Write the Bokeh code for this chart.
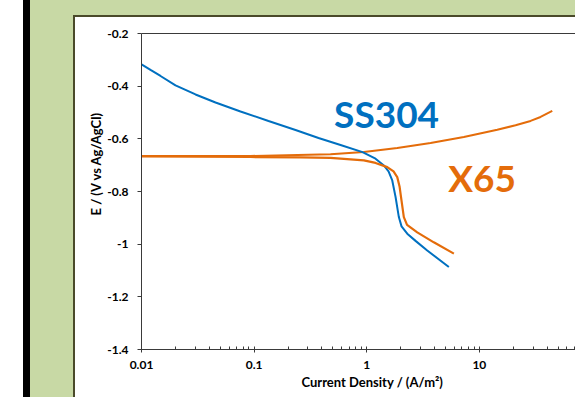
from bokeh.plotting import figure
from bokeh.models import FixedTicker, LinearAxis, Label, Range1d, Title
from bokeh.embed import file_html
from bokeh.resources import INLINE

# ---- data ----
ss304_current = [0.010, 0.01202, 0.01475, 0.02004, 0.03017, 0.04543, 0.07569, 0.1342, 0.2332,
                 0.3731, 0.5853, 0.9178, 1.197, 1.419, 1.562, 1.685, 1.803, 1.928, 2.037,
                 2.289, 2.713, 3.445, 5.36]
ss304_potential = [-0.3176, -0.3385, -0.3613, -0.3973, -0.4315, -0.4619, -0.4960, -0.5321, -0.5662,
                   -0.5966, -0.6232, -0.6505, -0.6755, -0.701, -0.7237, -0.758, -0.821, -0.897, -0.9325,
                   -0.960, -0.9875, -1.024, -1.087]

x65_anodic_current = [0.010, 0.093, 0.477, 0.943, 1.866, 3.687, 7.28, 14.42, 20.97, 28.5, 34.96, 44.4]
x65_anodic_potential = [-0.665, -0.665, -0.659, -0.650, -0.6345, -0.616, -0.5928, -0.5655, -0.5484,
                        -0.532, -0.517, -0.494]

x65_cathodic_current = [0.010, 0.093, 0.2582, 0.4774, 0.943, 1.197, 1.521, 1.730, 1.866, 1.956, 2.016,
                        2.135, 2.280, 2.81, 3.94, 5.94]
x65_cathodic_potential = [-0.667, -0.669, -0.6706, -0.6725, -0.682, -0.6915, -0.7074, -0.7237, -0.7454,
                          -0.7806, -0.8212, -0.8972, -0.9268, -0.9552, -0.993, -1.036]

x_ticks = [0.01, 0.1, 1, 10]
x_tick_labels = ["0.01", "0.1", "1", "10"]
x_minor = [m * d for d in [0.01, 0.1, 1, 10] for m in range(2, 10)]
y_ticks = [-1.4, -1.2, -1.0, -0.8, -0.6, -0.4, -0.2]
y_tick_labels = ["-1.4", "-1.2", "-1", "-0.8", "-0.6", "-0.4", "-0.2"]

x_title = "Current Density / (A/m²)"
y_title = "E / (V vs Ag/AgCl)"

BLUE = "#0070c0"
ORANGE = "#e46c0a"
GREEN = "#c8d9a5"
DARK = "#4a4a2a"
AXIS = "#3a3a3a"
FONT = "Lato"

W, H = 575, 397
p = figure(width=W, height=H, x_axis_type="log",
           x_range=Range1d(0.01, 71.4), y_range=Range1d(-1.4, -0.2),
           output_backend="svg", toolbar_location=None,
           min_border_left=141, min_border_top=33, min_border_bottom=48, min_border_right=0)

p.styles = {
    "background-image": (
        f"linear-gradient(to bottom, {GREEN} 0px, {GREEN} 15px, {DARK} 15px, {DARK} 17px, transparent 17px), "
        f"linear-gradient(to right, #ffffff 0px, #ffffff 23px, #000000 23px, #000000 30px, "
        f"{GREEN} 30px, {GREEN} 73px, {DARK} 73px, {DARK} 75px, #ffffff 75px)"
    ),
    "background-position": "73px 0px, 0px 0px",
    "background-size": f"{W - 73}px {H}px, {W}px {H}px",
    "background-repeat": "no-repeat",
}
p.border_fill_color = None
p.background_fill_color = "white"
p.outline_line_color = None
p.grid.visible = False

# x axis
xa = p.xaxis[0]
xa.ticker = FixedTicker(ticks=x_ticks, minor_ticks=x_minor)
xa.major_label_overrides = dict(zip(x_ticks, x_tick_labels))
xa.axis_line_color = AXIS
xa.major_tick_line_color = AXIS
xa.minor_tick_line_color = AXIS
xa.major_tick_in = 3
xa.major_tick_out = 3
xa.minor_tick_in = 3
xa.minor_tick_out = 0
xa.major_label_standoff = 8
xa.major_label_text_font = FONT
xa.major_label_text_font_style = "bold"
xa.major_label_text_font_size = "12px"
xa.major_label_text_color = "black"

# y axis
ya = p.yaxis[0]
ya.ticker = FixedTicker(ticks=y_ticks, minor_ticks=[])
ya.major_label_overrides = dict(zip(y_ticks, y_tick_labels))
ya.axis_line_color = AXIS
ya.major_tick_line_color = AXIS
ya.minor_tick_line_color = None
ya.major_tick_in = 0
ya.major_tick_out = 4
ya.major_label_standoff = 9
ya.major_label_text_font = FONT
ya.major_label_text_font_style = "bold"
ya.major_label_text_font_size = "12px"
ya.major_label_text_color = "black"

# top border line
top = LinearAxis(ticker=FixedTicker(ticks=[]), major_label_text_font_size="0px",
                 major_tick_line_color=None, minor_tick_line_color=None,
                 axis_line_color=AXIS)
p.add_layout(top, "above")

# axis titles
p.add_layout(Title(text=x_title, align="left", offset=160, standoff=0,
                   text_font=FONT, text_font_style="bold", text_font_size="13px",
                   text_color="black"), "below")
p.add_layout(Title(text=y_title, align="left", offset=134, standoff=2,
                   text_font=FONT, text_font_style="bold", text_font_size="13px",
                   text_color="black"), "left")

# curves
p.line(x65_anodic_current, x65_anodic_potential, color=ORANGE, line_width=2)
p.line(ss304_current, ss304_potential, color=BLUE, line_width=2)
p.line(x65_cathodic_current, x65_cathodic_potential, color=ORANGE, line_width=2.2)

# series labels
p.add_layout(Label(x=1.50, y=-0.5036, text="SS304", text_color=BLUE, text_font=FONT,
                   text_font_style="bold", text_font_size="37px", text_align="center",
                   text_baseline="alphabetic"))
p.add_layout(Label(x=10.57, y=-0.7465, text="X65", text_color=ORANGE, text_font=FONT,
                   text_font_style="bold", text_font_size="37px", text_align="center",
                   text_baseline="alphabetic"))

open("out.html", "w").write(file_html(p, INLINE))
